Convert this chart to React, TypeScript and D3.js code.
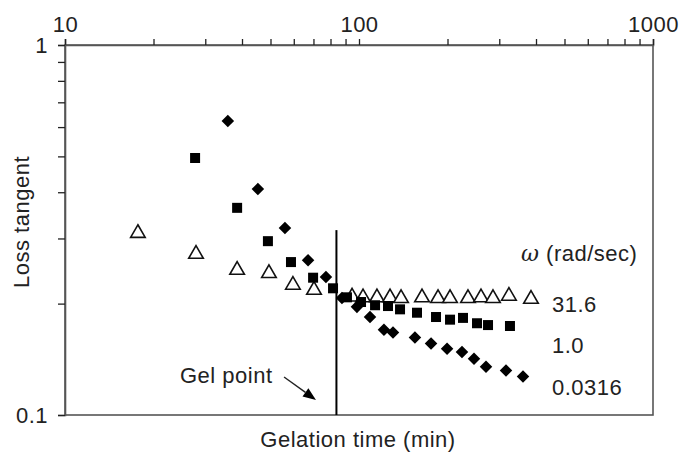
import React, { useEffect, useRef } from 'react';
import * as d3 from 'd3';

// omega = 31.6 rad/sec (open triangles)
const tri = [
  [17.7, 0.312], [27.9, 0.274], [38.5, 0.248], [49.4, 0.243], [59.6, 0.226], [70.3, 0.219],
  [94.7, 0.210], [103.2, 0.209], [115.1, 0.209], [127.5, 0.209], [139, 0.208], [163.8, 0.209],
  [185.7, 0.208], [204, 0.208], [234.8, 0.208], [260, 0.209], [285.6, 0.208], [323.6, 0.211],
  [384.6, 0.207],
];
// omega = 1.0 (filled squares)
const sq = [
  [27.7, 0.495], [38.5, 0.363], [49.0, 0.295], [58.7, 0.259], [69.8, 0.235], [81.6, 0.220],
  [91.0, 0.208], [101.6, 0.202], [113.4, 0.198], [125.5, 0.197], [137.9, 0.193], [157.5, 0.189],
  [182.8, 0.184], [204, 0.181], [225.8, 0.183], [252, 0.177], [274.7, 0.175], [326.2, 0.174],
];
// omega = 0.0316 (filled diamonds)
const dia = [
  [35.8, 0.623], [45.3, 0.408], [56.0, 0.320], [67.1, 0.262], [77.2, 0.236], [87.5, 0.207],
  [98.4, 0.196], [109.0, 0.184], [121.6, 0.170], [130.5, 0.167], [155, 0.162], [175.8, 0.156],
  [199.3, 0.151], [224, 0.148], [246.1, 0.142], [270.4, 0.135], [316.2, 0.132], [361.3, 0.127],
];

const xTicks = [10, 20, 30, 40, 50, 60, 70, 80, 90, 100, 200, 300, 400, 500, 600, 700, 800, 900, 1000];
const xLabels = [10, 100, 1000];
const yTicks = [0.1, 0.2, 0.3, 0.4, 0.5, 0.6, 0.7, 0.8, 0.9, 1];
const yLabels = [0.1, 1];
const seriesLabels = ['31.6', '1.0', '0.0316'];
const gelPoint = 83.8;

export default function App() {
  const svgRef = useRef(null);

  useEffect(() => {
    const svg = d3.select(svgRef.current);
    svg.selectAll('*').remove();
    const W = 680, H = 452;
    const margin = { top: 45, right: 27, bottom: 37, left: 65 };
    const font = 'Liberation Sans, Arial, Helvetica, sans-serif';
    const ink = '#222';
    const frame = '#555';
    const fs = '22px';
    const ls = '0.5px';

    const x = d3.scaleLog().domain([10, 1000]).range([margin.left, W - margin.right]);
    const y = d3.scaleLog().domain([0.1, 1]).range([H - margin.bottom, margin.top]);

    const txt = sel => sel.attr('fill', ink).style('font-size', fs)
      .style('font-family', font).style('letter-spacing', ls);

    // frame
    svg.append('rect')
      .attr('x', x(10)).attr('y', y(1))
      .attr('width', x(1000) - x(10)).attr('height', y(0.1) - y(1))
      .attr('fill', 'none').attr('stroke', frame).attr('stroke-width', 1.6);

    // top axis
    const xAxis = d3.axisTop(x).tickValues(xTicks).tickSize(6).tickPadding(7)
      .tickFormat(d => (xLabels.includes(d) ? String(d) : ''));
    const gx = svg.append('g').attr('transform', `translate(0,${y(1)})`).call(xAxis);
    gx.select('.domain').attr('stroke', frame).attr('stroke-width', 1.6);
    gx.selectAll('.tick line').attr('stroke', ink).attr('stroke-width', 1.3);
    gx.selectAll('text').call(txt);

    // left axis
    const yAxis = d3.axisLeft(y).tickValues(yTicks).tickSize(7).tickPadding(10)
      .tickFormat(d => (yLabels.includes(d) ? String(d) : ''));
    const gy = svg.append('g').attr('transform', `translate(${x(10)},0)`).call(yAxis);
    gy.select('.domain').attr('stroke', frame).attr('stroke-width', 1.6);
    gy.selectAll('.tick line').attr('stroke', ink).attr('stroke-width', 1.3);
    gy.selectAll('text').call(txt);

    // axis titles
    svg.append('text')
      .attr('transform', `translate(29,${(y(1) + y(0.1)) / 2 - 8}) rotate(-90)`)
      .attr('text-anchor', 'middle').call(txt)
      .text('Loss tangent');
    svg.append('text')
      .attr('x', (x(10) + x(1000)) / 2 - 1).attr('y', 447)
      .attr('text-anchor', 'middle').call(txt)
      .text('Gelation time (min)');

    // gel point line
    svg.append('line')
      .attr('x1', x(gelPoint)).attr('x2', x(gelPoint))
      .attr('y1', y(0.316)).attr('y2', y(0.1))
      .attr('stroke', '#000').attr('stroke-width', 2);

    // markers
    const triPath = d3.symbol().type(d3.symbolTriangle).size(92)();
    svg.append('g').selectAll('path').data(tri).enter().append('path')
      .attr('d', triPath)
      .attr('transform', d => `translate(${x(d[0])},${y(d[1]) + 1})`)
      .attr('fill', '#fff').attr('stroke', '#111').attr('stroke-width', 1.6);

    const s = 10;
    svg.append('g').selectAll('rect').data(sq).enter().append('rect')
      .attr('x', d => x(d[0]) - s / 2).attr('y', d => y(d[1]) - s / 2)
      .attr('width', s).attr('height', s).attr('fill', '#000');

    const diaPath = d3.symbol().type(d3.symbolDiamond2).size(100)();
    svg.append('g').selectAll('path').data(dia).enter().append('path')
      .attr('d', diaPath)
      .attr('transform', d => `translate(${x(d[0])},${y(d[1])})`)
      .attr('fill', '#000');

    // legend text
    const lx = 552;
    const om = svg.append('text').attr('x', 521).attr('y', 261).call(txt);
    om.append('tspan').style('font-family', 'DejaVu Serif, serif').style('font-style', 'italic').text('ω');
    om.append('tspan').text(' (rad/sec)');
    const baselines = [312, 353, 395];
    seriesLabels.forEach((t, i) => {
      svg.append('text').attr('x', lx).attr('y', baselines[i]).call(txt).text(t);
    });

    // gel point annotation
    svg.append('text').attr('x', 180).attr('y', 383).call(txt).text('Gel point');
    const a0 = [x(55.6), y(0.1267)];
    const a1 = [x(71.4), y(0.1098)];
    const ang = Math.atan2(a1[1] - a0[1], a1[0] - a0[0]);
    const hl = 13, hw = 5;
    const bx = a1[0] - hl * Math.cos(ang), by = a1[1] - hl * Math.sin(ang);
    svg.append('line').attr('x1', a0[0]).attr('y1', a0[1]).attr('x2', bx).attr('y2', by)
      .attr('stroke', '#222').attr('stroke-width', 1.4);
    svg.append('polygon')
      .attr('points', [
        [a1[0], a1[1]],
        [bx + hw * Math.sin(ang), by - hw * Math.cos(ang)],
        [bx - hw * Math.sin(ang), by + hw * Math.cos(ang)],
      ].map(p => p.join(',')).join(' '))
      .attr('fill', '#000');
  }, []);

  return (
    <div>
      <style>{'body{margin:0;background:#fff}'}</style>
      <svg ref={svgRef} width={680} height={452} style={{ display: 'block' }} />
    </div>
  );
}
